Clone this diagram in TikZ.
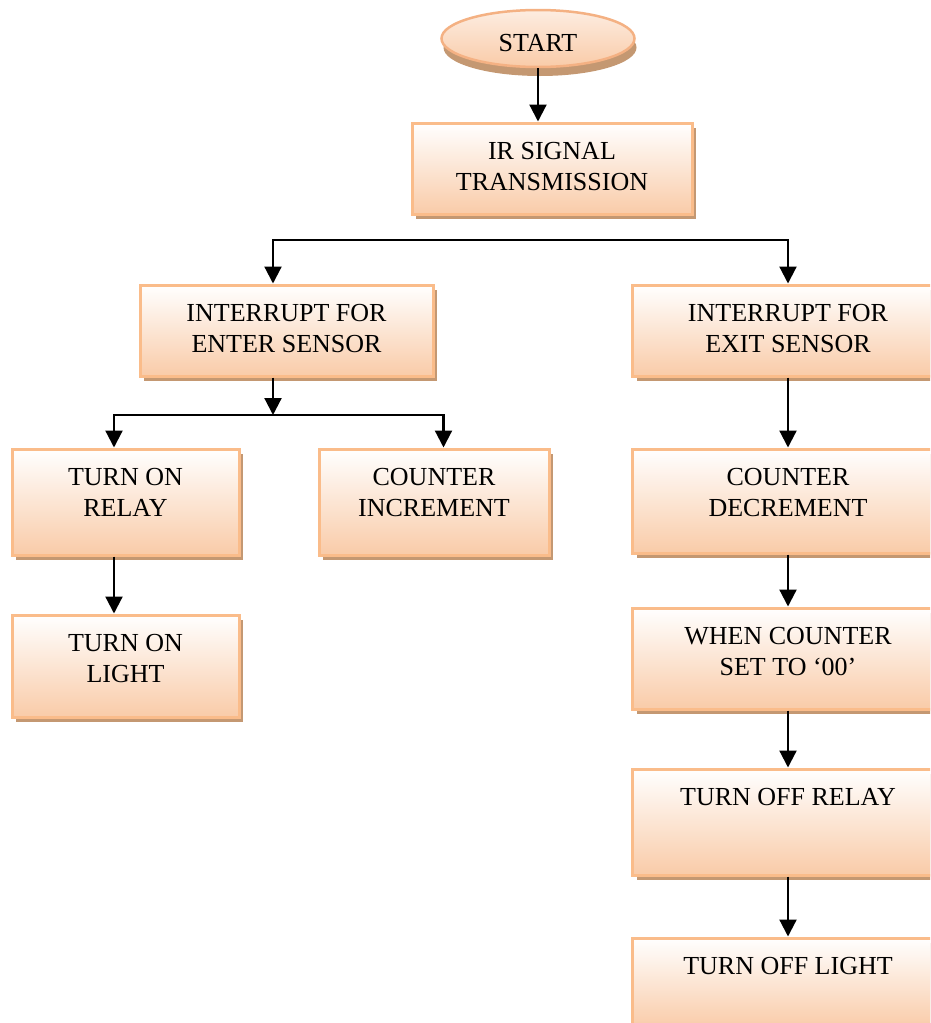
\documentclass[tikz,border=0pt]{standalone}
\usepackage{fontspec}
\setmainfont{Liberation Serif}
\usetikzlibrary{positioning,arrows.meta,shapes.geometric,shadows}

\definecolor{boxline}{RGB}{250,188,138}
\definecolor{boxpeach}{RGB}{249,203,168}
\definecolor{shadowtan}{RGB}{196,152,114}
\definecolor{ovalline}{RGB}{244,177,131}
\newcommand{\flowfont}{\fontsize{26}{31}\selectfont}

\begin{document}
\begin{tikzpicture}[x=1pt, y=-1pt,
    font=\flowfont,
    box/.style={draw=boxline, line width=3pt, inner sep=0pt,
                top color=white, bottom color=boxpeach,
                drop shadow={shadow xshift=4pt, shadow yshift=-5pt,
                             fill=shadowtan, opacity=1}},
    terminal/.style={ellipse, draw=ovalline, line width=2.5pt,
                     top color=boxpeach!35, bottom color=boxpeach,
                     minimum width=193pt, minimum height=57pt, inner sep=0pt,
                     text height=26pt,
                     drop shadow={shadow xshift=2pt, shadow yshift=-9pt,
                                  fill=shadowtan, opacity=1}},
    txt/.style={anchor=north, inner sep=0pt, yshift=-21pt, align=center},
    wide/.style={box, minimum width=311pt},
    arr/.style={-{Triangle[length=17pt, width=17pt]}, line width=2.2pt}
  ]
  \useasboundingbox (0,0) rectangle (930,1023);
  \clip (0,0) rectangle (930,1023);

  % ---- start and IR transmission ----
  \node[terminal] (start) at (538,38.5) {START};
  \node[box, minimum width=280pt, minimum height=91pt,
        label={[txt]north:IR SIGNAL\\TRANSMISSION}] (ir) at (552,168.5) {};
  \draw[arr] (start) -- (start |- ir.north);

  % ---- the two sensor interrupts ----
  \coordinate (fork) at (552,240);
  \node[box, minimum width=293pt, minimum height=91pt,
        label={[txt]north:INTERRUPT FOR\\ENTER SENSOR}] (enter) at (286.5,330.5) {};
  \node[wide, minimum height=91pt,
        label={[txt]north:INTERRUPT FOR\\EXIT SENSOR}] (exit) at (788,330.5) {};
  \draw[arr] (fork) -| ([xshift=-13.5pt]enter.north);
  \draw[arr] (fork) -| (exit.north);

  % ---- enter branch ----
  \coordinate (enterfork) at (273,415);
  \draw[arr] (enterfork |- enter.south) -- (enterfork);
  \node[box, minimum width=227pt, minimum height=106pt,
        label={[txt]north:TURN ON\\RELAY}] (onrelay) at (125.5,502) {};
  \node[box, minimum width=230pt, minimum height=106pt, right=77pt of onrelay,
        label={[txt]north:COUNTER\\INCREMENT}] (inc) {};
  \draw[arr] (enterfork) -| ([xshift=-11.5pt]onrelay.north);
  \draw[arr] (enterfork) -| ([xshift=9.5pt]inc.north);

  \node[box, minimum width=227pt, minimum height=102pt, below=57pt of onrelay,
        label={[txt]north:TURN ON\\LIGHT}] (onlight) {};
  \draw[arr] ([xshift=-11.5pt]onrelay.south) -- ([xshift=-11.5pt]onlight.north);

  % ---- exit branch ----
  \node[wide, minimum height=104pt, below=70pt of exit,
        label={[txt]north:COUNTER\\DECREMENT}] (dec) {};
  \node[wide, minimum height=101pt, below=52pt of dec,
        label={[txt]north:WHEN COUNTER\\SET TO ‘00’}] (zero) {};
  \node[wide, minimum height=106pt, below=57pt of zero,
        label={[txt]north:TURN OFF RELAY}] (offrelay) {};
  \node[wide, minimum height=90pt, below=60pt of offrelay,
        label={[txt]north:TURN OFF LIGHT}] (offlight) {};

  \draw[arr] (exit) -- (dec);
  \draw[arr] (dec) -- (zero);
  \draw[arr] (zero) -- (offrelay);
  \draw[arr] (offrelay) -- (offlight);

\end{tikzpicture}
\end{document}
